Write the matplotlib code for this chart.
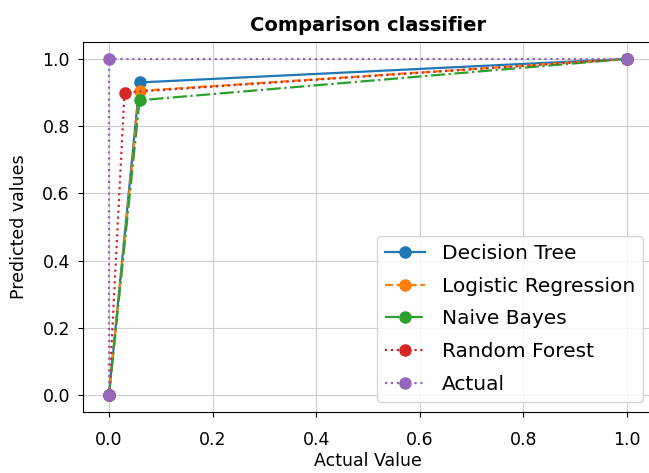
import numpy as np
import matplotlib
matplotlib.use('Agg')
import matplotlib.pyplot as plt

# ROC points (fpr, tpr) for each classifier
dt_fpr = [0.0, 0.059, 1.0]
dt_tpr = [0.0, 0.93, 1.0]
lr_fpr = [0.0, 0.059, 1.0]
lr_tpr = [0.0, 0.905, 1.0]
nb_fpr = [0.0, 0.059, 1.0]
nb_tpr = [0.0, 0.877, 1.0]
rf_fpr = [0.0, 0.03, 1.0]
rf_tpr = [0.0, 0.90, 1.0]
act_fpr = [0.0, 0.0, 1.0]
act_tpr = [0.0, 1.0, 1.0]

plt.rcParams['font.size'] = 12.5

fig = plt.figure(figsize=(6.49, 4.73), dpi=100)
ax = fig.add_axes([0.128, 0.129, 0.878, 0.782])

ms = 8
lw = 1.6
ax.plot(dt_fpr, dt_tpr, '-', marker='o', ms=ms, lw=lw, label='Decision Tree')
ax.plot(lr_fpr, lr_tpr, '--', marker='o', ms=ms, lw=lw, label='Logistic Regression')
ax.plot(nb_fpr, nb_tpr, '-.', marker='o', ms=ms, lw=lw, label='Naive Bayes')
ax.plot(rf_fpr, rf_tpr, ':', marker='o', ms=ms, lw=lw, label='Random Forest')
ax.plot(act_fpr, act_tpr, ':', marker='o', ms=ms, lw=lw, label='Actual')

ax.set_xlim(-0.05, 1.05)
ax.set_ylim(-0.05, 1.05)
ax.grid(True, color='#cfcfcf')
ax.tick_params(axis='x', pad=10)
ax.tick_params(axis='y', pad=6)
ax.set_title('Comparison classifier', fontweight='bold', fontsize=14, pad=8)
ax.set_xlabel('Actual Value', labelpad=2)
ax.set_ylabel('Predicted values', labelpad=10)
ax.legend(loc='lower right', fontsize=14.5, labelspacing=0.68)

fig.savefig('out.png')
